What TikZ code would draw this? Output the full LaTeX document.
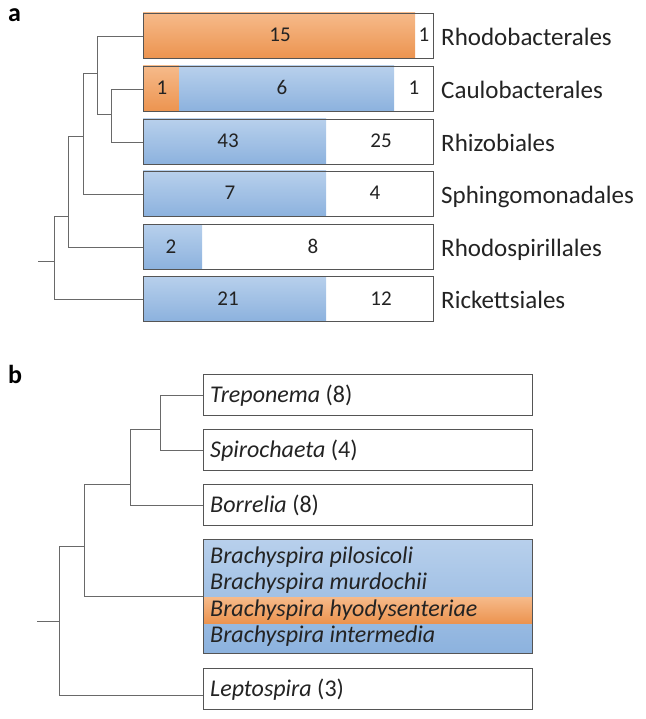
\documentclass[tikz,border=0pt]{standalone}
\usepackage{fontspec}
\setmainfont{Carlito}
\definecolor{bluetop}{RGB}{184,208,236}
\definecolor{bluebot}{RGB}{140,178,222}
\definecolor{ortop}{RGB}{246,186,138}
\definecolor{orbot}{RGB}{236,148,80}
\definecolor{boxline}{RGB}{85,85,85}
\definecolor{treeline}{RGB}{105,105,105}
\definecolor{txt}{RGB}{35,35,35}
\begin{document}
\begin{tikzpicture}[x=1pt,y=-1pt,
  boxa/.style={draw=boxline, line width=1.1pt, rectangle, inner sep=0pt, anchor=north west, minimum width=290pt, minimum height=45pt},
  boxb/.style={draw=boxline, line width=1.1pt, rectangle, inner sep=0pt, anchor=north west, minimum width=329pt, minimum height=41pt},
  tree/.style={draw=treeline, line width=0.9pt},
  num/.style={anchor=base, inner sep=0pt, text=txt, font=\fontsize{21}{24}\selectfont},
  laba/.style={anchor=base west, inner sep=0pt, text=txt, font=\fontsize{25}{28}\selectfont},
  labb/.style={anchor=base west, inner sep=0pt, text=txt, font=\fontsize{24}{26}\selectfont},
  panel/.style={anchor=base west, inner sep=0pt, text=black, font=\fontsize{26}{28}\selectfont\bfseries},
  blueshade/.style={top color=bluetop, bottom color=bluebot},
  orshade/.style={top color=ortop, bottom color=orbot}
]
\useasboundingbox (0,0) rectangle (645,719);

% ---------- panel a ----------
\node[panel] (pa) at (8,22) {a};

% fills
\shade[orshade] (143,13) rectangle (415,58);
\shade[orshade] (143,66) rectangle (179,111);
\shade[blueshade] (179,66) rectangle (394,111);
\shade[blueshade] (143,119) rectangle (326,164);
\shade[blueshade] (143,171) rectangle (326,216);
\shade[blueshade] (143,224) rectangle (202,269);
\shade[blueshade] (143,276) rectangle (326,321);

% boxes
\node[boxa] (A1) at (143,13) {};
\node[boxa] (A2) at (143,66) {};
\node[boxa] (A3) at (143,119) {};
\node[boxa] (A4) at (143,171) {};
\node[boxa] (A5) at (143,224) {};
\node[boxa] (A6) at (143,276) {};

% numbers
\node[num] (n11) at (280,42) {15};
\node[num] (n12) at (424,42) {1};
\node[num] (n21) at (162,95) {1};
\node[num] (n22) at (282,95) {6};
\node[num] (n23) at (414,95) {1};
\node[num] (n31) at (228,148) {43};
\node[num] (n32) at (381,148) {25};
\node[num] (n41) at (230,200) {7};
\node[num] (n42) at (375,200) {4};
\node[num] (n51) at (171,253) {2};
\node[num] (n52) at (313,253) {8};
\node[num] (n61) at (228,305) {21};
\node[num] (n62) at (381,305) {12};

% labels
\node[laba] (L1) at (441,45.5) {Rhodobacterales};
\node[laba] (L2) at (441,98.5) {Caulobacterales};
\node[laba] (L3) at (441,151.5) {Rhizobiales};
\node[laba] (L4) at (441,203.5) {Sphingomonadales};
\node[laba] (L5) at (441,256.5) {Rhodospirillales};
\node[laba] (L6) at (441,308.5) {Rickettsiales};

% tree a
\coordinate (ra) at (38,261);
\coordinate (a1) at (54.5,261);
\coordinate (a2) at (68,216);
\coordinate (a3) at (83,136);
\coordinate (a4) at (97,73);
\coordinate (a5) at (111,114);
\draw[tree] (ra) -- (a1);
\draw[tree] (a1) |- (a2);
\draw[tree] (a1) |- (A6.west);
\draw[tree] (a2) |- (a3);
\draw[tree] (a2) |- (A5.west);
\draw[tree] (a3) |- (a4);
\draw[tree] (a3) |- (A4.west);
\draw[tree] (a4) |- (A1.west);
\draw[tree] (a4) |- (a5);
\draw[tree] (a5) |- (A2.west);
\draw[tree] (a5) |- (A3.west);

% ---------- panel b ----------
\node[panel] (pb) at (8,383) {b};

\shade[blueshade] (203,539) rectangle (532,653);
\shade[orshade] (203,597) rectangle (532,623);

\node[boxb] (B1) at (203,374) {};
\node[boxb] (B2) at (203,429) {};
\node[boxb] (B3) at (203,484) {};
\node[boxb, minimum height=114pt] (B4) at (203,539) {};
\node[boxb] (B5) at (203,668) {};

\node[labb] (T1) at (210,402) {\itshape Treponema\/ \upshape(8)};
\node[labb] (T2) at (210,457) {\itshape Spirochaeta\/ \upshape(4)};
\node[labb] (T3) at (210,512) {\itshape Borrelia\/ \upshape(8)};
\node[labb] (T4a) at (210,563.5) {\itshape Brachyspira pilosicoli};
\node[labb] (T4b) at (210,589.5) {\itshape Brachyspira murdochii};
\node[labb] (T4c) at (210,616) {\itshape Brachyspira hyodysenteriae};
\node[labb] (T4d) at (210,642) {\itshape Brachyspira intermedia};
\node[labb] (T5) at (210,696) {\itshape Leptospira\/ \upshape(3)};

% tree b
\coordinate (rb) at (37,621);
\coordinate (b1) at (59,621);
\coordinate (b2) at (84,546);
\coordinate (b3) at (130.6,484);
\coordinate (b4) at (160.7,429);
\draw[tree] (rb) -- (b1);
\draw[tree] (b1) |- (b2);
\draw[tree] (b1) |- ([yshift=-6pt]B5.west);
\draw[tree] (b2) |- (b3);
\draw[tree] (b2) |- (B4.west);
\draw[tree] (b3) |- (b4);
\draw[tree] (b3) |- (B3.west);
\draw[tree] (b4) |- (B1.west);
\draw[tree] (b4) |- (B2.west);
\end{tikzpicture}
\end{document}
